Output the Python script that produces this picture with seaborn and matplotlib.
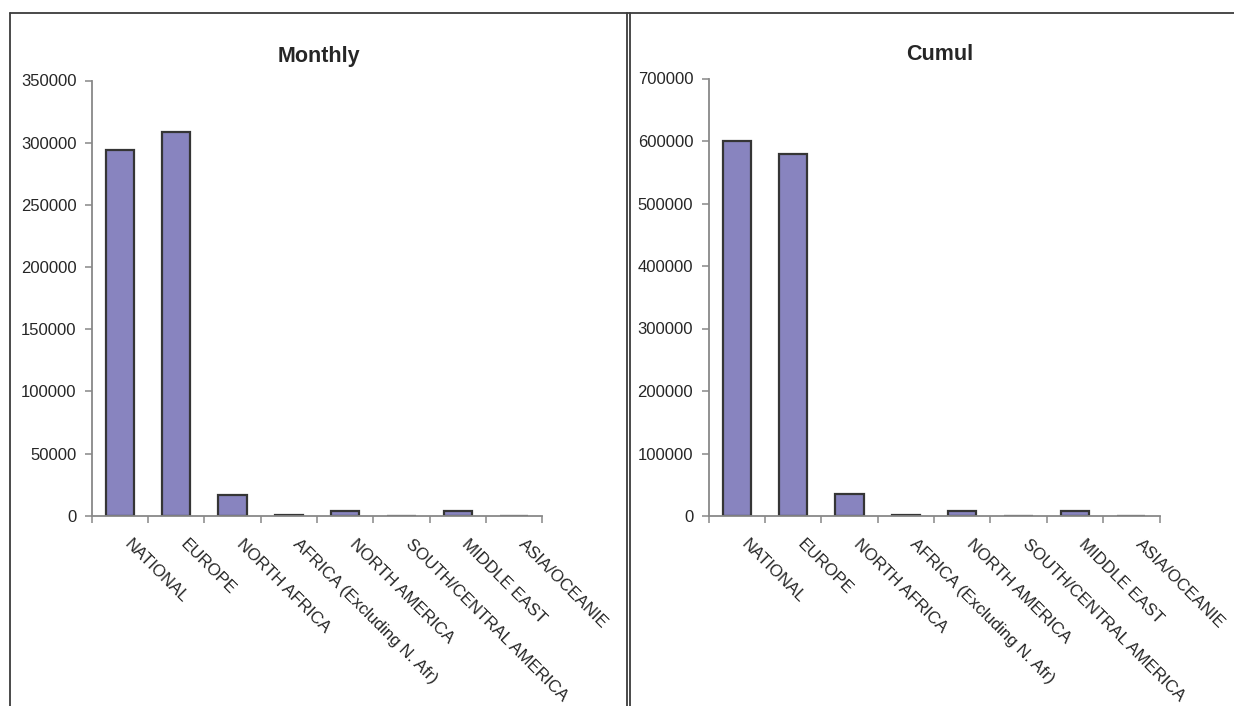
import matplotlib
matplotlib.use("Agg")
import matplotlib.pyplot as plt
import matplotlib.transforms as mtransforms
import seaborn as sns
import pandas as pd
from matplotlib.lines import Line2D

categories = ["NATIONAL", "EUROPE", "NORTH AFRICA", "AFRICA (Excluding N. Afr)",
              "NORTH AMERICA", "SOUTH/CENTRAL AMERICA", "MIDDLE EAST", "ASIA/OCEANIE"]
monthly = [294100, 308600, 16400, 800, 3500, 0, 4000, 0]
cumul = [600000, 579000, 35000, 1500, 8000, 0, 8000, 0]
monthly_ticks = [0, 50000, 100000, 150000, 200000, 250000, 300000, 350000]
cumul_ticks = [0, 100000, 200000, 300000, 400000, 500000, 600000, 700000]

BAR = "#8884bf"
EDGE = "#353535"
AXIS = "#888888"
TEXT = "#262626"
W, H = 1234, 706

sns.set_style("white")
plt.rcParams['font.family'] = ['Liberation Sans', 'DejaVu Sans']


def draw_panel(fig, ax, values, title, yticks, title_x):
    df = pd.DataFrame({"region": categories, "value": values})
    sns.barplot(data=df, x="region", y="value", order=categories, color=BAR,
                saturation=1, edgecolor=EDGE, linewidth=1.6, width=0.5, ax=ax)
    ax.set_xlim(-0.5, len(categories) - 0.5)
    ax.set_ylim(yticks[0], yticks[-1])
    ax.set_yticks(yticks)
    ax.set_yticklabels([str(t) for t in yticks])
    ax.set_xticks(range(len(categories)))
    ax.set_xticklabels(categories, rotation=-45, ha="left", va="top",
                       rotation_mode="anchor")
    ax.set_xticks([i - 0.5 for i in range(len(categories) + 1)], minor=True)
    ax.tick_params(axis="x", which="major", length=0, pad=15, labelsize=12.2,
                   labelcolor=TEXT)
    ax.tick_params(axis="x", which="minor", length=5, width=1.1, color=AXIS,
                   direction="out", bottom=True)
    ax.tick_params(axis="y", length=5, width=1.1, color=AXIS, direction="out",
                   left=True, pad=6, labelsize=12, labelcolor=TEXT)
    # nudge rotated labels so they start at the category centre
    shift = mtransforms.ScaledTranslation(12 / 100, 0, fig.dpi_scale_trans)
    for lab in ax.get_xticklabels():
        lab.set_transform(lab.get_transform() + shift)
    for s in ["top", "right"]:
        ax.spines[s].set_visible(False)
    for s in ["left", "bottom"]:
        ax.spines[s].set_color(AXIS)
        ax.spines[s].set_linewidth(1.3)
    ax.set_xlabel("")
    ax.set_ylabel("")
    ax.set_title(title, fontsize=15.5, fontweight="bold", color=TEXT, pad=13,
                 x=title_x)


fig = plt.figure(figsize=(W / 100, H / 100), dpi=100)

ax1 = fig.add_axes([91.7 / W, 1 - 515.7 / H, 450.6 / W, 435.2 / H])
draw_panel(fig, ax1, monthly, "Monthly", monthly_ticks, (319 - 91.7) / 450.6)

ax2 = fig.add_axes([708.5 / W, 1 - 516 / H, 451 / W, 437.5 / H])
draw_panel(fig, ax2, cumul, "Cumul", cumul_ticks, (940 - 708.5) / 451)

# chart frames
frame = dict(color="#3c3c3c", linewidth=1.3, transform=fig.transFigure)
fig.add_artist(Line2D([10 / W, 1], [1 - 13.3 / H, 1 - 13.3 / H], **frame))
fig.add_artist(Line2D([10 / W, 10 / W], [0, 1 - 13.3 / H], **frame))
fig.add_artist(Line2D([627 / W, 627 / W], [0, 1 - 13.3 / H], **frame))
fig.add_artist(Line2D([629.8 / W, 629.8 / W], [0, 1 - 13.3 / H], **frame))

fig.savefig("out.png", dpi=100)
